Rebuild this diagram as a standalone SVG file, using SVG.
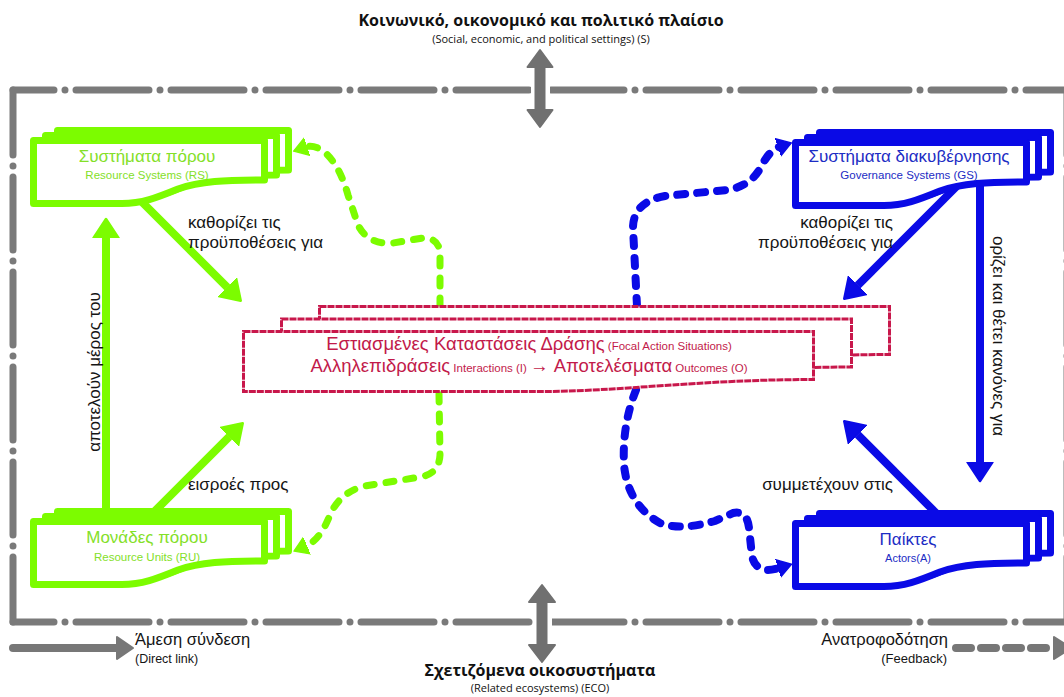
<svg xmlns="http://www.w3.org/2000/svg" xmlns:xlink="http://www.w3.org/1999/xlink" width="1064" height="697" viewBox="0 0 1064 697">
<style>
.frame{fill:none;stroke:#7a7a7a;stroke-width:7;stroke-linecap:round;stroke-dasharray:73 11 0 11}
.garr{fill:#707070;stroke:#707070;stroke-width:2;stroke-linejoin:round}
.g{fill:#fff;stroke:#7cfc00;stroke-width:7;stroke-linejoin:round}
.b{fill:#fff;stroke:#0a0ae6;stroke-width:7;stroke-linejoin:round}
.r{fill:#fff;stroke:#c8174b;stroke-width:3;stroke-dasharray:7 1}
.sg{fill:none;stroke:#7cfc00;stroke-width:8}
.sb{fill:none;stroke:#0a0ae6;stroke-width:8}
.dg{fill:none;stroke:#7cfc00;stroke-width:7;stroke-linecap:round;stroke-dasharray:8 12}
.db{fill:none;stroke:#0a0ae6;stroke-width:8;stroke-linecap:round;stroke-dasharray:8 12}
.lbl{font-family:"Liberation Sans",Arial,sans-serif;font-size:17px;fill:#151515}
.tg{font-family:"Liberation Sans",Arial,sans-serif;fill:#84e028;text-anchor:middle}
.tb{font-family:"Liberation Sans",Arial,sans-serif;fill:#1c2cc4;text-anchor:middle}
.tr{font-family:"Liberation Sans",Arial,sans-serif;fill:#c21a4a;text-anchor:middle}
.big{font-size:17px}
.sm{font-size:11.5px}
.fb{font-size:18.5px}
.fs{font-size:11.5px}
.ttl{font-family:"Open Sans","Noto Sans",sans-serif;font-weight:bold;font-size:16px;fill:#111;text-anchor:middle}
.sub{font-family:"Open Sans","Noto Sans",sans-serif;font-size:11px;fill:#111;text-anchor:middle}
</style>
<defs>
<path id="doc" d="M3.5,3.5 H234.5 V43 C195,43 170,44 148,52 C126,61 112,66.5 92,66.5 H3.5 Z"/>
<path id="fas" d="M1.5,1.5 H571.5 V49.5 C458,49.5 378,61.5 298,61.5 H1.5 Z"/>
<marker id="hg" markerUnits="userSpaceOnUse" markerWidth="22" markerHeight="28" viewBox="0 -14 22 28" refX="0" refY="0" orient="auto"><path d="M0,-12.5 L19,0 L0,12.5 Z" fill="#7cfc00" stroke="#7cfc00" stroke-width="2.5" stroke-linejoin="round"/></marker>
<marker id="hb" markerUnits="userSpaceOnUse" markerWidth="22" markerHeight="28" viewBox="0 -14 22 28" refX="0" refY="0" orient="auto"><path d="M0,-12.5 L19,0 L0,12.5 Z" fill="#0a0ae6" stroke="#0a0ae6" stroke-width="2.5" stroke-linejoin="round"/></marker>
<marker id="dhg" markerUnits="userSpaceOnUse" markerWidth="18" markerHeight="22" viewBox="0 -11 18 22" refX="1" refY="0" orient="auto"><path d="M0,-9 L14,0 L0,9 Z" fill="#7cfc00" stroke="#7cfc00" stroke-width="1.5" stroke-linejoin="round"/></marker>
<marker id="dhb" markerUnits="userSpaceOnUse" markerWidth="18" markerHeight="22" viewBox="0 -11 18 22" refX="1" refY="0" orient="auto"><path d="M0,-9 L14,0 L0,9 Z" fill="#0a0ae6" stroke="#0a0ae6" stroke-width="1.5" stroke-linejoin="round"/></marker>
</defs>
<rect width="1064" height="697" fill="#fff"/>

<g id="context">
<text class="ttl" x="541" y="26">Κοινωνικό, οικονομικό και πολιτικό πλαίσιο</text>
<text class="sub" x="541" y="43">(Social, economic, and political settings) (S)</text>
<path class="frame" d="M13,90 H1072" stroke-dashoffset="32"/>
<path class="frame" d="M13,90 V622" stroke-dashoffset="8"/>
<path class="frame" d="M13,622 H1072" stroke-dashoffset="32"/>
<path class="frame" d="M1067,90 V622" stroke-dashoffset="8"/>
<rect x="531" y="83" width="19" height="14" fill="#fff"/>
<rect x="533" y="615" width="19" height="14" fill="#fff"/>
<path class="garr" d="M540,50 L552.5,67 L544.5,67 L544.5,110 L552.5,110 L540,127 L527.5,110 L535.5,110 L535.5,67 L527.5,67 Z"/>
<path class="garr" d="M542,585 L555,602 L546.5,602 L546.5,645 L555,645 L542,662 L529,645 L537.5,645 L537.5,602 L529,602 Z"/>
<text class="ttl" x="540" y="676">Σχετιζόμενα οικοσυστήματα</text>
<text class="sub" x="540" y="692">(Related ecosystems) (ECO)</text>
</g>

<g id="connectors">
<path class="sg" d="M134,194 L227.3,287.3" marker-end="url(#hg)"/>
<path class="sg" d="M153.6,512.4 L229.3,436.7" marker-end="url(#hg)"/>
<path class="sg" d="M106,512 L106,238" marker-end="url(#hg)"/>
<path class="sb" d="M958,185 L857.7,285.3" marker-end="url(#hb)"/>
<path class="sb" d="M937,514 L857.7,434.7" marker-end="url(#hb)"/>
<path class="sb" d="M980,180 L980,462" marker-end="url(#hb)"/>
<path class="dg" d="M440,306 L440,255 Q440,238 423,238 L393,243 Q368,245 358,225 L348,195 Q338,160 320,149 Q312,145 306,147" marker-end="url(#dhg)"/>
<path class="dg" d="M439,394 L440,455 Q439,474 420,477 L365,486 Q340,492 330,515 Q320,540 306,546" marker-end="url(#dhg)"/>
<path class="db" d="M637,306 L633,228 Q633,202 665,196 L727,190 Q752,186 762,165 Q770,150 779,147" marker-end="url(#dhb)"/>
<path class="db" d="M636,390 Q622,425 624,465 Q628,505 660,523 Q680,531 715,521 L733,513 Q747,510 749,528 L752,556 Q756,575 779,568" marker-end="url(#dhb)"/>
<text class="lbl" x="188" y="228">καθορίζει τις</text>
<text class="lbl" x="188" y="248">προϋποθέσεις για</text>
<text class="lbl" x="188" y="490">εισροές προς</text>
<text class="lbl" x="893" y="228" text-anchor="end">καθορίζει τις</text>
<text class="lbl" x="893" y="248" text-anchor="end">προϋποθέσεις για</text>
<text class="lbl" x="893" y="490" text-anchor="end">συμμετέχουν στις</text>
<text class="lbl" transform="translate(100,372) rotate(-90)" text-anchor="middle">αποτελούν μέρος του</text>
<text class="lbl" transform="translate(993,336) rotate(90)" text-anchor="middle">ορίζει και θέτει κανόνες για</text>
</g>

<g id="node-rs" transform="translate(30,137)">
<use xlink:href="#doc" href="#doc" class="g" x="24" y="-10"/>
<use xlink:href="#doc" href="#doc" class="g" x="12" y="-5"/>
<use xlink:href="#doc" href="#doc" class="g"/>
<text class="tg big" x="117" y="25">Συστήματα πόρου</text>
<text class="tg sm" x="117" y="42">Resource Systems (RS)</text>
</g>

<g id="node-ru" transform="translate(30,518)">
<use xlink:href="#doc" href="#doc" class="g" x="24" y="-10"/>
<use xlink:href="#doc" href="#doc" class="g" x="12" y="-5"/>
<use xlink:href="#doc" href="#doc" class="g"/>
<text class="tg big" x="117" y="25">Μονάδες πόρου</text>
<text class="tg sm" x="117" y="43">Resource Units (RU)</text>
</g>

<g id="node-gs" transform="translate(792,139)">
<use xlink:href="#doc" href="#doc" class="b" x="24" y="-10"/>
<use xlink:href="#doc" href="#doc" class="b" x="12" y="-5"/>
<use xlink:href="#doc" href="#doc" class="b"/>
<text class="tb big" x="117" y="23">Συστήματα διακυβέρνησης</text>
<text class="tb sm" x="117" y="40">Governance Systems (GS)</text>
</g>

<g id="node-a" transform="translate(792,520)">
<use xlink:href="#doc" href="#doc" class="b" x="24" y="-10"/>
<use xlink:href="#doc" href="#doc" class="b" x="12" y="-5"/>
<use xlink:href="#doc" href="#doc" class="b"/>
<text class="tb big" x="116" y="25">Παίκτες</text>
<text class="tb" x="116" y="42" style="font-size:11px">Actors(A)</text>
</g>

<g id="node-fas" transform="translate(242,330)">
<use xlink:href="#fas" href="#fas" class="r" x="76" y="-25"/>
<use xlink:href="#fas" href="#fas" class="r" x="38" y="-12.5"/>
<use xlink:href="#fas" href="#fas" class="r"/>
<text class="tr" x="287" y="20"><tspan class="fb">Εστιασμένες Καταστάσεις Δράσης</tspan><tspan class="fs"> (Focal Action Situations)</tspan></text>
<text class="tr" x="287" y="42"><tspan class="fb">Αλληλεπιδράσεις</tspan><tspan class="fs"> Interactions (I) </tspan><tspan class="fb"> → Αποτελέσματα</tspan><tspan class="fs"> Outcomes (O)</tspan></text>
</g>

<g id="legend">
<path d="M13,648 H118" stroke="#777" stroke-width="8" stroke-linecap="round" fill="none"/>
<path d="M117,637 L133,648 L117,659 Z" fill="#777" stroke="#777" stroke-width="2" stroke-linejoin="round"/>
<text class="lbl" x="135" y="645" style="font-size:16.5px">Άμεση σύνδεση</text>
<text class="lbl" x="135" y="663" style="font-size:12.5px">(Direct link)</text>
<text class="lbl" x="948" y="645" style="font-size:16.5px" text-anchor="end">Ανατροφοδότηση</text>
<text class="lbl" x="947" y="663" style="font-size:13px" text-anchor="end">(Feedback)</text>
<path d="M956,648 H1052" stroke="#777" stroke-width="8" stroke-linecap="round" stroke-dasharray="15 10" fill="none"/>
<path d="M1054,637 L1071,648 L1054,659 Z" fill="#777" stroke="#777" stroke-width="2" stroke-linejoin="round"/>
</g>
</svg>
